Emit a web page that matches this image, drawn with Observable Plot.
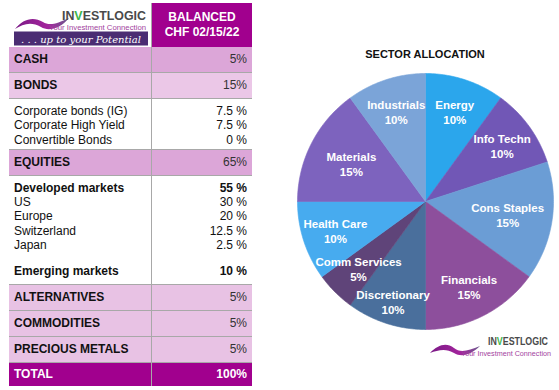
<!DOCTYPE html>
<html>
<head>
<meta charset="utf-8">
<script src="https://cdn.jsdelivr.net/npm/d3@7"></script>
<script src="https://cdn.jsdelivr.net/npm/@observablehq/plot@0.6"></script>
<style>
  body { margin:0; width:559px; height:390px; position:relative; background:#fff; overflow:hidden;
         font-family:"Liberation Sans", Arial, Helvetica, sans-serif; color:#111; }
  #table { position:absolute; left:9px; top:3px; width:243px; }
  .row { display:flex; }
  .l { width:143px; box-sizing:border-box; padding-left:5px; border-right:1px solid #a8a8a8; white-space:nowrap; }
  .r { width:100px; box-sizing:border-box; text-align:right; padding-right:5px; white-space:nowrap; }
  .cls { height:25px; line-height:25px; font-weight:bold; font-size:12px; border-bottom:1px solid #a8a8a8; }
  .cls .r { font-weight:normal; color:#333; }
  .block { padding-top:5px; padding-bottom:2px; border-bottom:1px solid #a8a8a8;
           background:#fff linear-gradient(#a8a8a8,#a8a8a8) no-repeat 142px 0 / 1px 100%; }
  .block .l { border-right:1px solid transparent; }
  .block .row { height:14.3px; line-height:14.3px; font-size:12px; }
  .sub { font-weight:bold; }
  .total { color:#fff; height:23px; line-height:23px; font-weight:bold; font-size:12px; }
  .total .r { font-weight:bold; color:#fff; }
  .hdr { height:44px; }
  .hdr .r { background:#a1008e; color:#fff; font-weight:bold; font-size:12px; line-height:15px;
            text-align:center; padding:7px 0 0 0; border-right:none; }
  .hdr .l { padding:0; border-right:1px solid #a8a8a8; }
  #title { position:absolute; left:292px; top:48px; width:266px; text-align:center; font-weight:bold; font-size:11px; }
  #pie { position:absolute; left:292px; top:68px; }
  #logo2 { position:absolute; left:428px; top:330px; }
</style>
</head>
<body>
<div id="table"></div>
<div id="title">SECTOR ALLOCATION</div>
<div id="pie"></div>
<svg id="logo2" width="130" height="32" viewBox="0 0 130 32">
  <defs>
    <linearGradient id="sw2" x1="0" x2="1"><stop offset="0" stop-color="#7a1a86"/><stop offset="0.6" stop-color="#a3249c"/><stop offset="1" stop-color="#6d5a8e"/></linearGradient>
  </defs>
  <path d="M2,23 C10,15 18,12 26,18 C32,23 40,21 52,16 C44,24 34,28 26,23 C18,18 10,20 2,23 Z" fill="url(#sw2)"/>
  <text x="60" y="15" font-size="10" font-weight="bold" fill="#4a4a4a" font-family="Liberation Sans, Arial" textLength="60" lengthAdjust="spacingAndGlyphs">IN<tspan fill="#3cb54a">V</tspan>ESTLOGIC</text>
  <text x="33" y="25.5" font-size="6.8" fill="#a33fa0" font-family="Liberation Sans, Arial" textLength="90" lengthAdjust="spacingAndGlyphs">Your Investment Connection</text>
</svg>
<script>
// ---------- Table data ----------
const headerLines = ["BALANCED", "CHF 02/15/22"];
const rowLabels = ["CASH","BONDS","Corporate bonds (IG)","Corporate High Yield","Convertible Bonds","EQUITIES",
  "Developed markets","US","Europe","Switzerland","Japan","Emerging markets",
  "ALTERNATIVES","COMMODITIES","PRECIOUS METALS","TOTAL"];
const rowValues = ["5%","15%","7.5 %","7.5 %","0 %","65%","55 %","30 %","20 %","12.5 %","2.5 %","10 %","5%","5%","5%","100%"];
const rowKinds = ["classA","classB","detail","detail","detail","classA","sub","detail","detail","detail","detail","sub2",
  "classC","classC","classC","total"];

// ---------- Pie data ----------
const sectors = ["Energy","Info Techn","Cons Staples","Financials","Discretionary","Comm Services","Health Care","Materials","Industrials"];
const weights = [10,10,15,15,10,5,10,15,10];
const sectorColors = ["#2ba6ec","#7157b6","#6b9dd5","#8d4f9c","#4a6f9c","#5f4479","#47abef","#7d63be","#7ba4d8"];

// ---------- Build table ----------
const kindBg = { classA:"#dca6d8", classB:"#ebc7e7", classC:"#e8c2e4", total:"#a1008e" };
const table = document.getElementById("table");

const hdr = document.createElement("div");
hdr.className = "row hdr";
hdr.innerHTML = `<div class="l">
  <svg width="143" height="44" viewBox="0 0 143 44">
    <defs>
      <linearGradient id="sw1" x1="0" x2="1"><stop offset="0" stop-color="#7a1a86"/><stop offset="0.6" stop-color="#a3249c"/><stop offset="1" stop-color="#6d5a8e"/></linearGradient>
    </defs>
    <path d="M6,26 C14,16 24,13 34,19 C40,23 48,21 60,15 C52,25 40,29 32,24 C22,18 14,21 6,26 Z" fill="url(#sw1)"/>
    <text x="53" y="17" font-size="12" font-weight="bold" fill="#4a4a4a" font-family="Liberation Sans, Arial" textLength="84" lengthAdjust="spacingAndGlyphs">IN<tspan fill="#3cb54a">V</tspan>ESTLOGIC</text>
    <text x="40" y="27" font-size="7" fill="#a33fa0" font-family="Liberation Sans, Arial" textLength="97" lengthAdjust="spacingAndGlyphs">Your Investment Connection</text>
    <rect x="5" y="28.5" width="134" height="14" fill="#4b2d73"/>
    <text x="12" y="39.5" font-size="10" font-style="italic" fill="#fff" font-family="DejaVu Serif, serif" textLength="120" lengthAdjust="spacingAndGlyphs">. . . up to your Potential</text>
  </svg></div>
  <div class="r">${headerLines.join("<br>")}</div>`;
table.appendChild(hdr);

let block = null;
rowLabels.forEach((lab, i) => {
  const kind = rowKinds[i];
  if (kind === "detail" || kind === "sub" || kind === "sub2") {
    if (!block) { block = document.createElement("div"); block.className = "block"; table.appendChild(block); }
    const r = document.createElement("div");
    r.className = "row" + (kind !== "detail" ? " sub" : "");
    if (kind === "sub2") { r.style.marginTop = "12px"; block.style.paddingBottom = "5px"; }
    r.innerHTML = `<div class="l">${lab}</div><div class="r">${rowValues[i]}</div>`;
    block.appendChild(r);
  } else {
    block = null;
    const r = document.createElement("div");
    r.className = "row " + (kind === "total" ? "total" : "cls");
    r.style.background = kindBg[kind];
    r.innerHTML = `<div class="l">${lab}</div><div class="r">${rowValues[i]}</div>`;
    table.appendChild(r);
  }
});

// ---------- Pie via Plot ----------
const R = 128; // pixel radius (inner width 256 / 2)
const arcs = d3.pie().sort(null).startAngle(0).endAngle(2 * Math.PI)(weights);
const polyPts = [];
arcs.forEach((a, i) => {
  const s = sectors[i];
  polyPts.push({sector: s, x: 0, y: 0});
  const span = a.endAngle - a.startAngle;
  const n = Math.max(2, Math.ceil(span / (Math.PI / 180)));
  for (let k = 0; k <= n; k++) {
    const t = a.startAngle + span * k / n;
    polyPts.push({sector: s, x: Math.sin(t), y: Math.cos(t)});
  }
  polyPts.push({sector: s, x: 0, y: 0});
});

// label placement: wide slices nearer the centre; smaller slices placed first,
// later labels pushed outward while they collide with already-placed ones
const order = d3.range(sectors.length).sort((a, b) => d3.ascending(weights[a], weights[b]) || a - b);
const placed = [];
const labels = new Array(sectors.length);
order.forEach(i => {
  const a = arcs[i];
  const span = a.endAngle - a.startAngle;
  const mid = (a.startAngle + a.endAngle) / 2;
  let lr = span > 0.8 ? 0.65 : 0.74;
  const w = sectors[i].length * 6.6, h = 31;
  const hits = (r) => placed.some(p =>
    Math.abs(r * R * Math.sin(mid) - p.px) < (w + p.w) / 2 &&
    Math.abs(r * R * Math.cos(mid) - p.py) < h);
  while (hits(lr) && lr < 0.9) lr += 0.02;
  placed.push({px: lr * R * Math.sin(mid), py: lr * R * Math.cos(mid), w});
  labels[i] = {sector: sectors[i], x: lr * Math.sin(mid), y: lr * Math.cos(mid), text: sectors[i] + "\n" + weights[i] + "%"};
});

const plot = Plot.plot({
  width: 266,
  height: 266,
  margin: 5,
  style: { background: "transparent", fontFamily: "Liberation Sans, Arial, sans-serif" },
  x: { domain: [-1, 1], axis: null },
  y: { domain: [-1, 1], axis: null },
  color: { domain: sectors, range: sectorColors },
  marks: [
    Plot.line(polyPts, { x: "x", y: "y", z: "sector", fill: "sector", stroke: "sector", strokeWidth: 0.6, curve: "linear" }),
    Plot.text(labels, { x: "x", y: "y", text: "text", fill: "white", fontWeight: "bold", fontSize: 11.5, lineHeight: 1.3 })
  ]
});
document.getElementById("pie").appendChild(plot);
</script>
</body>
</html>
